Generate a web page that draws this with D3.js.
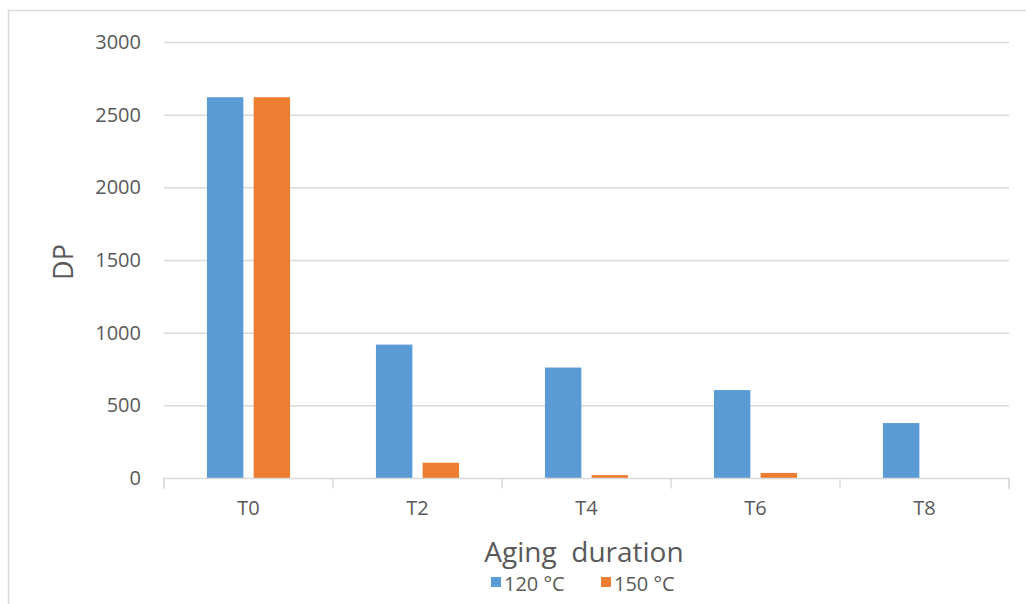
<!DOCTYPE html>
<html><head><meta charset="utf-8">
<script src="https://cdn.jsdelivr.net/npm/d3@7"></script>
<style>body{margin:0;background:#fff}svg{display:block}text{font-family:"Open Sans",sans-serif}</style>
</head><body><svg id="c" width="1026" height="604"></svg>
<script>
const categories = ["T0","T2","T4","T6","T8"];
const seriesNames = ["120 °C","150 °C"];
const values120 = [2620, 918, 760, 605, 378];
const values150 = [2620, 105, 20, 35, 0];
const yTicks = [0,500,1000,1500,2000,2500,3000];
const colors = ["#5b9bd5","#ed7d31"];

const svg = d3.select("#c");
svg.append("path").attr("d","M8.5,604 V10.5 H1026").attr("fill","none").attr("stroke","#d9d9d9").attr("stroke-width",1.5);

const x = d3.scaleBand().domain(categories).range([164,1009]);
const y = d3.scaleLinear().domain([0,3000]).range([478,42]);
const xs = d3.scaleBand().domain(seriesNames).range([0,x.bandwidth()]).paddingInner(0.22).paddingOuter(0.92);

svg.append("g").selectAll("line").data(yTicks.filter(d=>d>0)).join("line")
  .attr("x1",164).attr("x2",1009).attr("y1",d=>y(d)+0.5).attr("y2",d=>y(d)+0.5)
  .attr("stroke","#d9d9d9").attr("stroke-width",1.5);

const ya = svg.append("g").attr("transform","translate(141,0)")
  .call(d3.axisLeft(y).tickValues(yTicks).tickFormat(d3.format("d")).tickSize(0).tickPadding(0));
ya.select(".domain").remove();
ya.selectAll("text").attr("font-size",20).attr("fill","#595959").attr("font-family","Open Sans");

const data = categories.map((c,i)=>({c, v:[values120[i], values150[i]]}));
const g = svg.append("g").selectAll("g").data(data).join("g").attr("transform",d=>`translate(${x(d.c)},0)`);
g.selectAll("rect").data(d=>d.v.map((v,j)=>({v,s:seriesNames[j],j}))).join("rect")
  .attr("x",d=>xs(d.s)).attr("width",xs.bandwidth())
  .attr("y",d=>y(d.v)).attr("height",d=>y(0)-y(d.v))
  .attr("fill",d=>colors[d.j]);

const xa = svg.append("g").attr("transform","translate(0,478.5)").call(d3.axisBottom(x).tickSize(0).tickPadding(22));
xa.select(".domain").attr("stroke","#d9d9d9").attr("stroke-width",1.5).attr("d","M164,10V0H1009V10");
xa.selectAll("text").attr("font-size",20).attr("fill","#595959").attr("font-family","Open Sans");
const bounds = categories.map(c=>x(c)).concat([x.range()[1]]);
xa.selectAll("line.sep").data(bounds).join("line").attr("class","sep")
  .attr("x1",d=>d).attr("x2",d=>d).attr("y1",0).attr("y2",10).attr("stroke","#d9d9d9").attr("stroke-width",1.5);

svg.append("text").attr("transform","translate(73,262) rotate(-90)").attr("text-anchor","middle")
  .attr("font-size",27).attr("fill","#595959").text("DP");
svg.append("text").attr("x",584).attr("y",562).attr("text-anchor","middle").style("white-space","pre")
  .attr("font-size",28).attr("fill","#595959").text("Aging  duration");

const leg = svg.append("g");
const legX = [491, 601];
seriesNames.forEach((s,i)=>{
  leg.append("rect").attr("x",legX[i]).attr("y",577).attr("width",10).attr("height",10).attr("fill",colors[i]);
  leg.append("text").attr("x",legX[i]+13).attr("y",591).attr("font-size",20).attr("fill","#595959").text(s);
});
</script></body></html>
